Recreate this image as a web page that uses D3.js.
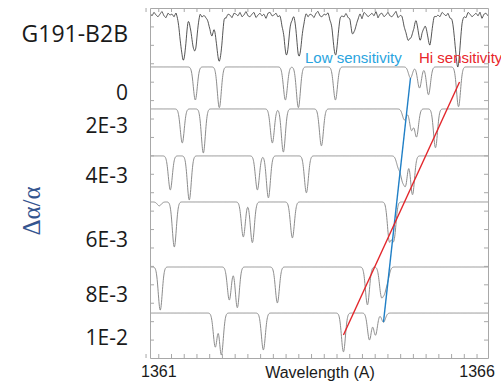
<!DOCTYPE html>
<html>
<head>
<meta charset="utf-8">
<script src="https://cdn.jsdelivr.net/npm/d3@7"></script>
<style>
  body { margin: 0; background: #fff; }
</style>
</head>
<body>
<svg id="chart" width="501" height="385"></svg>
<script>
// spectra, top to bottom
var panels = ["G191-B2B", "0", "2E-3", "4E-3", "6E-3", "8E-3", "1E-2"];
// continuum level of every spectrum (flux offset units)
var continuum = [18.62, 15.80, 13.52, 10.97, 8.47, 4.94, 2.44];

// absorption lines [wavelength (A), relative depth]
var linesObs = [[1361.393, .90], [1361.566, .71], [1361.833, .38], [1361.959, .92], [1363.013, .77], [1363.217, .77],
                [1363.783, .73], [1364.066, .35], [1364.900, .30], [1364.962, .44], [1365.119, .48], [1365.261, .54], [1365.701, .99]];
var lines0 = [[1361.582, .69], [1361.959, .85], [1362.997, .69], [1363.201, .85], [1363.783, .69],
              [1364.962, .23], [1365.104, .44], [1365.245, .58], [1365.717, .83]];
var lines2 = [[1361.377, .71], [1361.708, .92], [1362.792, .71], [1362.965, .90], [1363.563, .77],
              [1364.868, .23], [1364.978, .44], [1365.057, .58], [1365.355, .81]];
var lines4 = [[1361.189, .71], [1361.487, .92], [1362.557, .71], [1362.730, .875], [1363.327, .77],
              [1364.774, .23], [1364.836, .44], [1364.884, .58], [1364.994, .81]];
var lines6 = [[1361.016, .08], [1361.252, .94], [1362.336, .73], [1362.478, .85], [1363.107, .75],
              [1364.695, .23], [1364.700, .44], [1364.690, .58], [1364.632, .81]];
var lines8 = [[1361.031, .90], [1362.116, .69], [1362.242, .85], [1362.871, .75],
              [1364.286, .79], [1364.506, .58], [1364.553, .44], [1364.601, .23]];
var lines10 = [[1361.896, .71], [1361.991, .875], [1362.651, .77], [1363.909, .81],
               [1364.318, .56], [1364.412, .46], [1364.538, .19]];
var panelLines = [linesObs, lines0, lines2, lines4, lines6, lines8, lines10];

// noise of the observed spectrum, evenly spaced over the plotted range
var noise = [2,-1,3,0,-2,1,4,-1,-3,2,0,1,-2,3,-1,-4,2,1,-1,3,
             -2,0,2,-3,1,4,-2,0,-1,2,3,-2,1,-3,0,2,-1,4,-2,1,
             0,-3,2,1,-1,3,-2,0,4,-1,-2,1,3,-3,0,2,-1,1,-4,2,
             3,-1,0,2,-2,1,-3,4,0,-1,2,-2,3,1,-4,0,2,-1,3,-2,
             1,0,-3,2,4,-1,-2,1,0,3,-2,2,-1,-3,1,4,0,-2,2,-1,
             3,-3,1,0,-1,2,-4,3,1,-2,0,2,-1,4,-3,1,2,-2,0,3,
             -1,-2,1,4,-3,0,2,-1,1,-2,3,0,-4,2,1,-1,3,-2,0,1,
             -3,2,4,-1,0,-2,3,1,-1,2,-3,0,1,4,-2,-1,2,0,-3,3,
             1,-2,0,2,-1,3,-4,1,2,-1];

// sensitivity guide lines [wavelength, flux]
var lowSens = [[1364.538, 1.95], [1364.962, 15.20]];
var hiSens = [[1363.909, 1.25], [1365.733, 14.98]];

var xLabels = [1361, 1366];

var svg = d3.select("#chart"),
    margin = { top: 8, right: 13, bottom: 27, left: 150 },
    width = +svg.attr("width") - margin.left - margin.right,
    height = +svg.attr("height") - margin.top - margin.bottom;

var x = d3.scaleLinear().domain([1360.87, 1366.18]).range([margin.left, margin.left + width]);
var y = d3.scaleLinear().domain([0, 19]).range([margin.top + height, margin.top]);

svg.append("clipPath").attr("id", "plotclip")
    .append("rect")
    .attr("x", margin.left).attr("y", margin.top)
    .attr("width", width).attr("height", height);

function flux(wl, list, sigma) {
    var f = 1;
    list.forEach(function(l) {
        f *= 1 - l[1] * Math.exp(-0.5 * Math.pow((wl - l[0]) / sigma, 2));
    });
    return f;
}

var line = d3.line().x(function(d) { return x(d[0]); }).y(function(d) { return y(d[1]); });
var plot = svg.append("g").attr("clip-path", "url(#plotclip)");

// model spectra
var grid = d3.range(1360.87, 1366.185, 0.004);
for (var i = 1; i < panels.length; i++) {
    var pts = grid.map(function(wl) { return [wl, continuum[i] - 2.6 * (1 - flux(wl, panelLines[i], 0.031))]; });
    plot.append("path")
        .attr("d", line(pts))
        .attr("fill", "none")
        .attr("stroke", "#8c8c8c")
        .attr("stroke-width", 1);
}

// observed spectrum: line profile plus the noise, read between noise samples
var step = (1366.18 - 1360.87) / (noise.length - 1);
var noiseAt = d3.scaleLinear()
    .domain(noise.map(function(n, k) { return 1360.87 + k * step; }))
    .range(noise);
var fine = d3.range(1360.87, 1366.18, 0.006).map(function(wl) {
    return [wl, continuum[0] - 2.8 * (1 - flux(wl, linesObs, 0.04)) + noiseAt(wl) * 0.05];
});
plot.append("path")
    .attr("d", line(fine))
    .attr("fill", "none")
    .attr("stroke", "#2a2a2a")
    .attr("stroke-width", 0.8);

// guide lines
plot.append("path").attr("d", line(lowSens)).attr("stroke", "#1f7fc6").attr("stroke-width", 1.4).attr("fill", "none");
plot.append("path").attr("d", line(hiSens)).attr("stroke", "#e3262b").attr("stroke-width", 1.4).attr("fill", "none");

// frame and axes, ticks point inward
var axisColor = "#a8a8a8";
var xMinor = d3.range(1360.8, 1366.19, 0.2);
var yMinor = d3.range(1, 19, 1);
svg.append("g").attr("transform", "translate(0," + (margin.top + height) + ")")
    .call(d3.axisBottom(x).tickValues(xMinor).tickSize(-4).tickSizeOuter(0).tickFormat(""));
svg.append("g").attr("transform", "translate(0," + margin.top + ")")
    .call(d3.axisTop(x).tickValues(xMinor).tickSize(-4).tickSizeOuter(0).tickFormat(""));
svg.append("g").attr("transform", "translate(" + margin.left + ",0)")
    .call(d3.axisLeft(y).tickValues(yMinor).tickSize(-4).tickSizeOuter(0).tickFormat(""));
svg.append("g").attr("transform", "translate(" + (margin.left + width) + ",0)")
    .call(d3.axisRight(y).tickValues(yMinor).tickSize(-4).tickSizeOuter(0).tickFormat(""));
svg.selectAll(".domain").attr("stroke", axisColor);
svg.selectAll(".tick line").attr("stroke", axisColor);

svg.append("g").attr("transform", "translate(0," + (margin.top + height) + ")")
    .call(d3.axisBottom(x).tickValues(xLabels).tickSize(0).tickPadding(8).tickFormat(d3.format("d")))
    .call(function(g) { g.select(".domain").remove(); })
    .selectAll("text")
    .attr("font-family", "'Liberation Sans', Arial, sans-serif")
    .attr("font-size", 16)
    .attr("fill", "#1a1a1a");

svg.append("text")
    .attr("x", 320).attr("y", 378)
    .attr("text-anchor", "middle")
    .attr("font-family", "'Liberation Sans', Arial, sans-serif")
    .attr("font-size", 16)
    .attr("fill", "#1a1a1a")
    .text("Wavelength (A)");

// spectrum labels
var labelY = [42, 100, 133, 183, 247, 302, 345];
svg.append("g")
    .attr("font-family", "'Open Sans', sans-serif")
    .attr("fill", "#1a1a1a")
    .attr("text-anchor", "end")
    .selectAll("text")
    .data(panels)
    .enter().append("text")
    .attr("x", 128)
    .attr("y", function(d, i) { return labelY[i]; })
    .attr("font-size", function(d, i) { return i === 0 ? 23 : 21; })
    .text(function(d) { return d; });

svg.append("text")
    .attr("transform", "translate(40,211) rotate(-90)")
    .attr("text-anchor", "middle")
    .attr("font-family", "'Liberation Serif', serif")
    .attr("font-size", 25)
    .attr("fill", "#34558f")
    .text("Δα/α");

svg.append("text")
    .attr("x", 305).attr("y", 63)
    .attr("font-family", "'Liberation Sans', Arial, sans-serif")
    .attr("font-size", 15)
    .attr("fill", "#2aa4de")
    .text("Low sensitivity");
svg.append("text")
    .attr("x", 419).attr("y", 63)
    .attr("font-family", "'Liberation Sans', Arial, sans-serif")
    .attr("font-size", 15)
    .attr("fill", "#e8262b")
    .text("Hi sensitivity");
</script>
</body>
</html>
